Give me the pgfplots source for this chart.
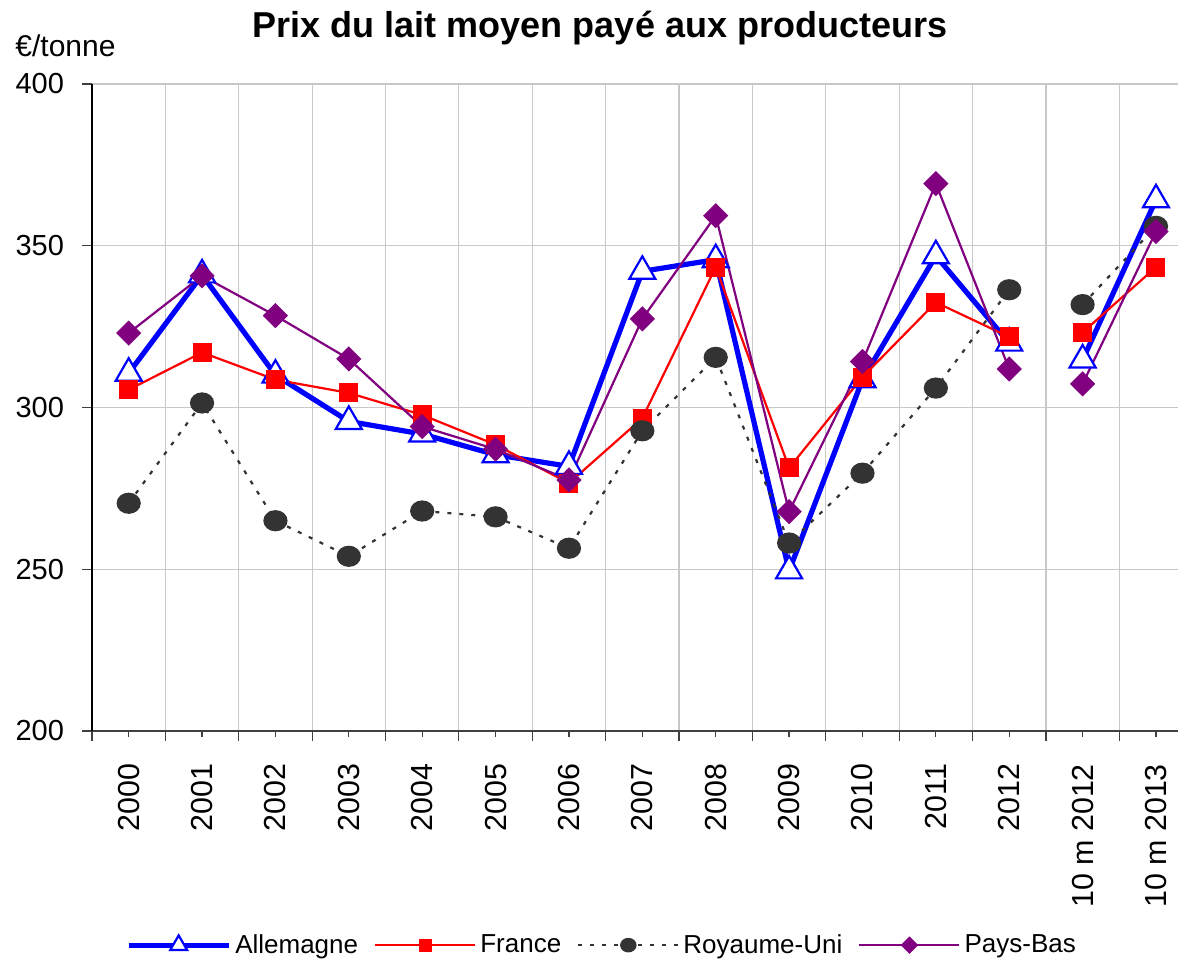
\documentclass[border=0pt]{standalone}
\usepackage{fontspec}
\setmainfont{Liberation Sans}
\usepackage{pgfplots}
\pgfplotsset{compat=1.18}
\definecolor{ru_gray}{HTML}{333333}
\definecolor{pb_purple}{HTML}{800080}
\definecolor{grid_gray}{HTML}{C8C8C8}

\begin{document}
\begin{tikzpicture}
\begin{axis}[
    scale only axis,
    width=543pt, height=323.5pt,
    xmin=-0.5, xmax=14.3,
    ymin=200, ymax=400,
    ytick={200,250,...,400},
    axis x line*=bottom, axis y line*=left,
    x axis line style={draw=black!75, line width=0.8pt},
    y axis line style={draw=black, line width=0.8pt},
    tick align=outside,
    major tick length=5pt,
    minor tick length=3pt,
    every tick/.style={black!75, line width=0.6pt},
    xtick={-0.5,0.5,1.5,2.5,3.5,4.5,5.5,6.5,7.5,8.5,9.5,10.5,11.5,12.5,13.5},
    xticklabels={},
    minor xtick={0,1,...,14},
    extra x ticks={0,1,...,14},
    extra x tick labels={2000,2001,2002,2003,2004,2005,2006,2007,2008,2009,2010,2011,2012,10 m 2012,10 m 2013},
    extra x tick style={grid=none, major tick length=0pt},
    xmajorgrids=true, ymajorgrids=true,
    grid style={grid_gray, line width=0.6pt},
    xticklabel style={yshift=-13pt, rotate=90, anchor=east, font=\fontsize{15.2}{18}\selectfont},
    yticklabel style={xshift=-5.5pt, font=\fontsize{14.5}{17}\selectfont},
    /pgf/number format/assume math mode=true,
    unbounded coords=jump,
    legend columns=4,
    legend style={
        at={(0.4705,-0.331)}, anchor=center,
        draw=none, fill=none,
        font=\fontsize{13}{15}\selectfont,
        /tikz/every even column/.append style={column sep=6pt},
    },
    legend image code/.code={
        \draw[mark repeat=2, mark phase=2, #1, every mark/.append style={scale=0.65}]
            plot coordinates {(0pt,0pt) (25pt,0pt) (50pt,0pt)};
    },
]

% Allemagne
\addplot[blue, line width=2.6pt, mark=triangle*, mark size=7.5pt,
    mark options={fill=white, draw=blue, line width=1.1pt}]
    coordinates {
    (0,310.6) (1,341) (2,310) (3,295.7) (4,291.8) (5,285.4) (6,281.8)
    (7,342.1) (8,345.7) (9,249.5) (10,308.6) (11,346.9) (12,319.9)
    (12.5,nan)
    (13,314.7) (14,364.2)
    };
\addlegendentry{Allemagne}

% France
\addplot[red, line width=1.1pt, mark=square*, mark size=4.5pt,
    mark options={fill=red, draw=red, line width=0pt, solid}]
    coordinates {
    (0,305.5) (1,317) (2,308.6) (3,304.5) (4,297.7) (5,288.5) (6,276.6)
    (7,296.7) (8,343.4) (9,281.3) (10,309.4) (11,332.5) (12,321.8)
    (12.5,nan)
    (13,323.2) (14,343.4)
    };
\addlegendentry{France}

% Royaume-Uni
\addplot[ru_gray, line width=1.1pt, dash pattern=on 2pt off 4pt,
    mark=*, mark size=5pt,
    mark options={fill=ru_gray, draw=ru_gray, solid, xscale=1.1, yscale=0.95}]
    coordinates {
    (0,270.4) (1,301.4) (2,265) (3,254) (4,268) (5,266.2) (6,256.5)
    (7,292.8) (8,315.5) (9,258.1) (10,279.7) (11,306) (12,336.4)
    (12.5,nan)
    (13,331.8) (14,356)
    };
\addlegendentry{Royaume-Uni}

% Pays-Bas
\addplot[pb_purple, line width=1.1pt, mark=square*, mark size=3.9pt,
    mark options={fill=pb_purple, draw=pb_purple, rotate=45, solid}]
    coordinates {
    (0,323) (1,340.7) (2,328.4) (3,315) (4,294.1) (5,287.1) (6,277.6)
    (7,327.4) (8,359.3) (9,267.8) (10,314.2) (11,369.2) (12,311.9)
    (12.5,nan)
    (13,307.3) (14,354.4)
    };
\addlegendentry{Pays-Bas}

\end{axis}

\node[anchor=base, font=\fontsize{18}{21}\selectfont\bfseries] at (254pt,346.5pt)
    {Prix du lait moyen payé aux producteurs};
\node[anchor=base west, inner sep=0pt, font=\fontsize{15}{18}\selectfont] at (-38.5pt,337pt)
    {€/tonne};

\pgfresetboundingbox
\path[use as bounding box] (-46pt,-115.5pt) rectangle (543pt,365.5pt);
\end{tikzpicture}
\end{document}
